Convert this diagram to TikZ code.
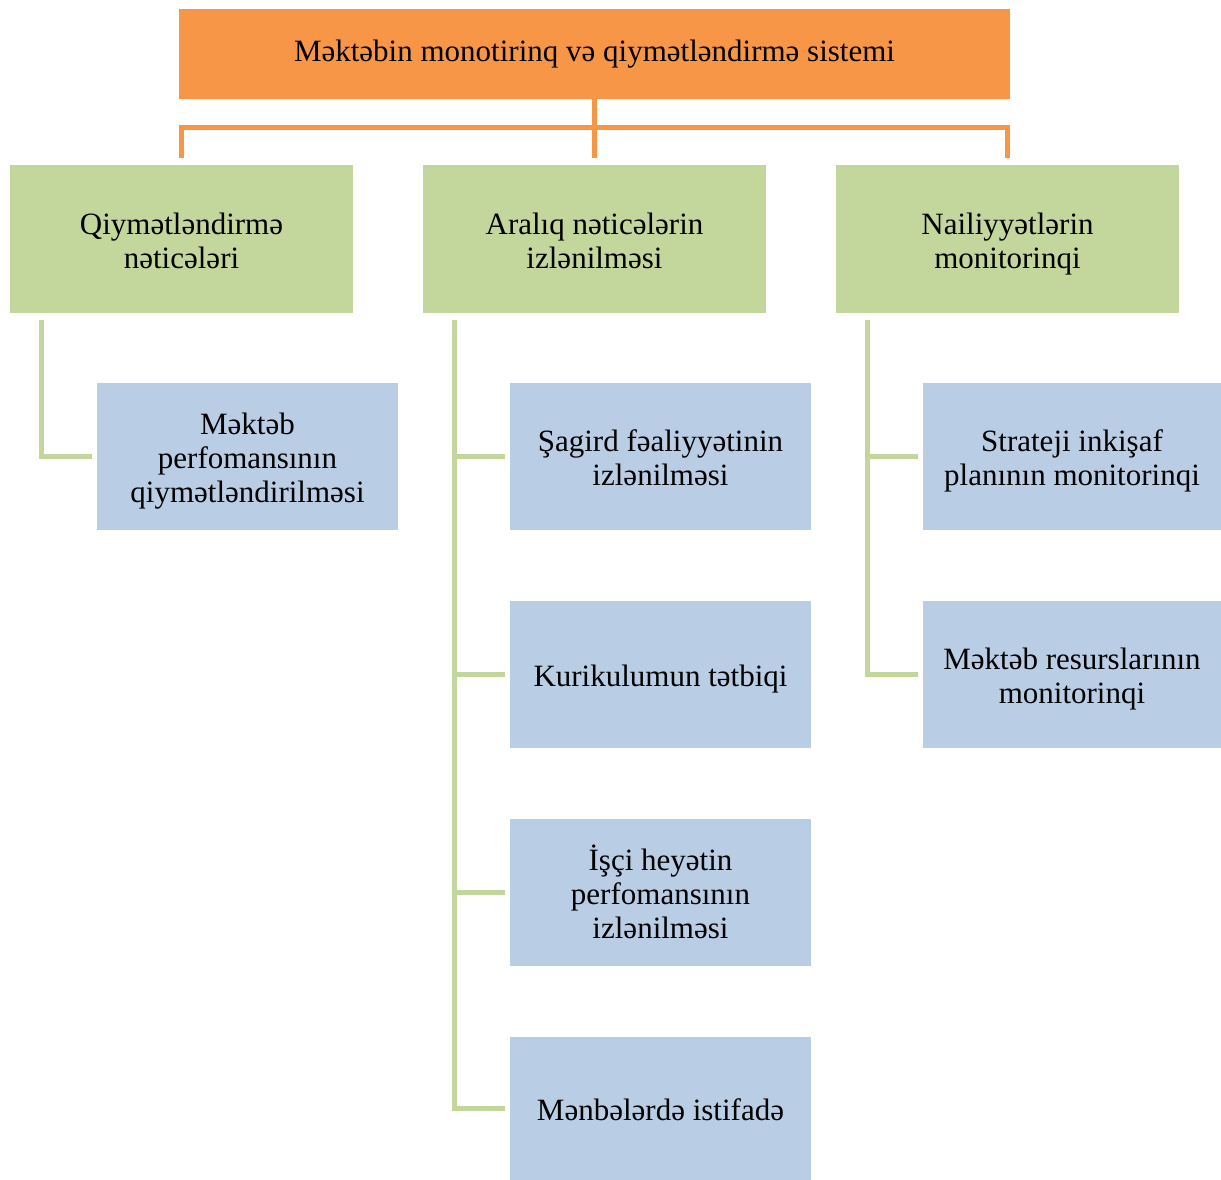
\documentclass[tikz,border=0pt]{standalone}
\usepackage{fontspec}
\setmainfont{Liberation Serif}
\usetikzlibrary{positioning, calc}
\definecolor{headorange}{HTML}{F79646}
\definecolor{groupgreen}{HTML}{C3D69B}
\definecolor{itemblue}{HTML}{B9CDE5}
\newcommand{\upstrut}{\rule{0pt}{34pt}}
\newcommand{\downstrut}{\rule[-10pt]{0pt}{10pt}}

\begin{document}
\begin{tikzpicture}[
				x = 1pt, y = -1pt,
				headbox/.style = {rectangle, fill = headorange, text centered, minimum width = 831pt, minimum height = 90pt, inner sep = 0pt},
				groupbox/.style = {rectangle, fill = groupgreen, align = center, minimum width = 343pt, minimum height = 148pt, inner sep = 0pt, execute at end node = \downstrut},
				itembox/.style = {rectangle, fill = itemblue, align = center, minimum width = 301pt, minimum height = 147pt, inner sep = 0pt, execute at end node = \downstrut},
				orangeline/.style = {line width = 5pt, draw = headorange},
				greenline/.style = {line width = 5pt, draw = groupgreen},
				font = \fontsize{31}{34}\selectfont
			]
			\useasboundingbox (0,0) rectangle (1221,1180);

			\node[headbox](MS) at (594.5,54){Məktəbin monotirinq və qiymətləndirmə sistemi};

			\node[groupbox](QN) at (181.5,239){\upstrut Qiymətləndirmə\\nəticələri};
			\node[groupbox](AN) at (594.5,239){\upstrut Aralıq nəticələrin\\izlənilməsi};
			\node[groupbox](NM) at (1007.5,239){\upstrut Nailiyyətlərin\\monitorinqi};

			\node[itembox](MP) at (247.5,456.5){\upstrut Məktəb\\perfomansının\\qiymətləndirilməsi};
			\node[itembox](SF) at (660.5,456.5){\upstrut Şagird fəaliyyətinin\\izlənilməsi};
			\node[itembox](KT) at (660.5,674.5){\upstrut Kurikulumun tətbiqi};
			\node[itembox](IH) at (660.5,892.5){\upstrut İşçi heyətin\\perfomansının\\izlənilməsi};
			\node[itembox, minimum height = 143pt](MI) at (660.5,1108.5){\upstrut Mənbələrdə istifadə};
			\node[itembox, minimum width = 298pt](SI) at (1072,456.5){\upstrut Strateji inkişaf\\planının monitorinqi};
			\node[itembox, minimum width = 298pt](MR) at (1072,674.5){\upstrut Məktəb resurslarının\\monitorinqi};

			\coordinate(bar) at (594.5,128);
			\coordinate(t1) at ($(QN.south west)+(32,7)$);
			\coordinate(t2) at ($(AN.south west)+(32,7)$);
			\coordinate(t3) at ($(NM.south west)+(32,7)$);

			\draw[orangeline, shorten >= 7pt](MS.south)--(MS.south |- QN.north);
			\draw[orangeline, shorten <= 7pt, shorten >= 7pt](QN.north) |- (bar) -| (NM.north);

			\draw[greenline, shorten >= 5pt](t1) |- (MP.west);
			\draw[greenline, shorten >= 5pt](t2) |- (MI.west);
			\draw[greenline, shorten >= 5pt](t3) |- (MR.west);
			\foreach \b/\t in {SF/t2, KT/t2, IH/t2, SI/t3}
				\draw[greenline, shorten <= 5pt](\b.west)--(\b.west -| \t);
		\end{tikzpicture}
\end{document}
